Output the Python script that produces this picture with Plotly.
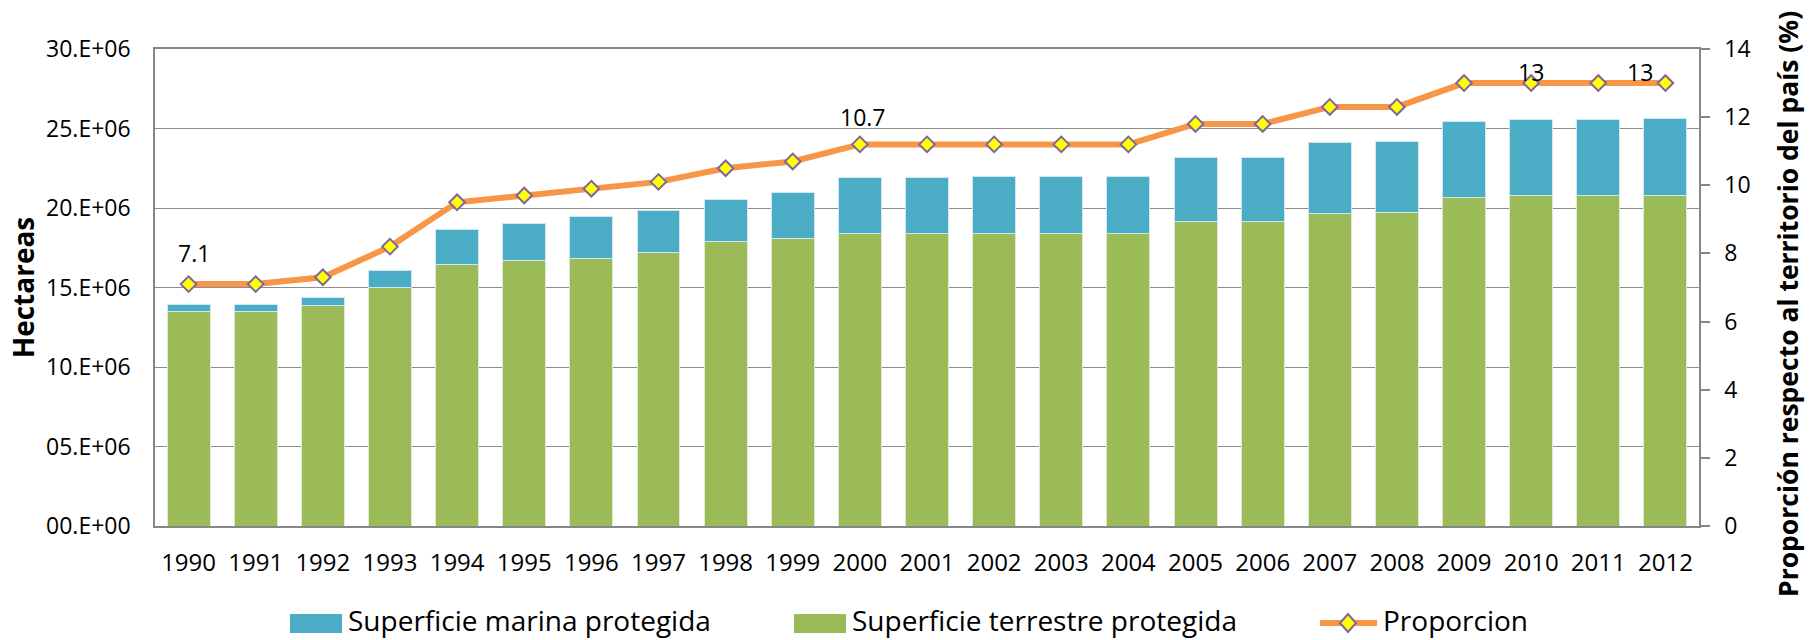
import plotly.graph_objects as go

# ---------------- data ----------------
years = ["1990", "1991", "1992", "1993", "1994", "1995", "1996", "1997", "1998", "1999",
         "2000", "2001", "2002", "2003", "2004", "2005", "2006", "2007", "2008", "2009",
         "2010", "2011", "2012"]

# hectares
terrestre = [13510000, 13510000, 13870000, 15020000, 16420000, 16700000, 16820000, 17220000,
             17890000, 18100000, 18400000, 18400000, 18400000, 18400000, 18400000, 19150000,
             19150000, 19650000, 19720000, 20660000, 20790000, 20790000, 20790000]
marina = [420000, 420000, 520000, 1020000, 2250000, 2300000, 2640000, 2640000,
          2660000, 2870000, 3520000, 3520000, 3560000, 3560000, 3560000, 4040000,
          4040000, 4490000, 4480000, 4800000, 4790000, 4790000, 4840000]

# percent of national territory
proporcion = [7.1, 7.1, 7.3, 8.2, 9.5, 9.7, 9.9, 10.1, 10.5, 10.7, 11.2, 11.2, 11.2, 11.2,
              11.2, 11.8, 11.8, 12.3, 12.3, 13.0, 13.0, 13.0, 13.0]

left_tickvals = [0, 5000000, 10000000, 15000000, 20000000, 25000000, 30000000]
left_ticktext = ["00.E+00", "05.E+06", "10.E+06", "15.E+06", "20.E+06", "25.E+06", "30.E+06"]
right_tickvals = [0, 2, 4, 6, 8, 10, 12, 14]

# data labels shown on the line (year of the point, label offset in px)
label_years = ["1990", "1999", "2010", "2012"]
label_offsets = [(5, 31), (70, 44), (0, 11), (-25, 11)]

names = ["Superficie marina protegida", "Superficie terrestre protegida", "Proporcion"]
y1_title = "Hectareas"
y2_title = "Proporción respecto al territorio del país (%)"

# ---------------- style ----------------
C_MAR = "#4BACC6"
C_TER = "#9BBB59"
C_LINE = "#F79646"
C_MFILL = "#FFFF00"
C_MEDGE = "#8064A2"
C_GRID = "#8c8c8c"
C_AXIS = "#868686"
FONT = "Open Sans"

W, H = 1812, 640
L, R, T, B = 155, 113, 49, 114
PW, PH = W - L - R, H - T - B


def pxx(px):
    return (px - L) / PW


def pxy(py):
    return (H - B - py) / PH


fig = go.Figure()
fig.add_trace(go.Bar(x=years, y=terrestre, name=names[1], marker=dict(color=C_TER, line=dict(color="#dfe9cf", width=1)),
                     showlegend=False))
fig.add_trace(go.Bar(x=years, y=marina, name=names[0], marker=dict(color=C_MAR, line=dict(color="#cfe8ef", width=1)),
                     showlegend=False))
fig.add_trace(go.Scatter(x=years, y=proporcion, name=names[2], yaxis="y2", mode="lines+markers",
                         line=dict(color=C_LINE, width=6),
                         marker=dict(symbol="diamond", size=12, color=C_MFILL, line=dict(color=C_MEDGE, width=2)),
                         showlegend=False))

annotations = []
for yr, (dx, dy) in zip(label_years, label_offsets):
    i = years.index(yr)
    v = proporcion[i]
    annotations.append(dict(x=i, y=v, xref="x", yref="y2", text=f"{v:g}", showarrow=False,
                            xshift=dx, yshift=dy, font=dict(family=FONT, size=23, color="#000000"),
                            xanchor="center", yanchor="middle"))

# right axis title (placed like the original, slightly below the axis centre)
annotations.append(dict(x=pxx(1788), y=pxy(304), xref="paper", yref="paper", text=f"<b>{y2_title}</b>",
                        textangle=-90, showarrow=False, xanchor="center", yanchor="middle",
                        font=dict(family=FONT, size=26.5, color="#000000")))

# custom legend
shapes = []
leg_y = 623
shapes.append(dict(type="rect", xref="paper", yref="paper", x0=pxx(290), x1=pxx(342), y0=pxy(633), y1=pxy(614),
                   fillcolor=C_MAR, line=dict(width=0)))
shapes.append(dict(type="rect", xref="paper", yref="paper", x0=pxx(794), x1=pxx(846), y0=pxy(633), y1=pxy(614),
                   fillcolor=C_TER, line=dict(width=0)))
shapes.append(dict(type="line", xref="paper", yref="paper", x0=pxx(1320), x1=pxx(1377), y0=pxy(leg_y), y1=pxy(leg_y),
                   line=dict(color=C_LINE, width=6)))
shapes.append(dict(type="path", xref="paper", yref="paper", xsizemode="pixel", ysizemode="pixel",
                   xanchor=pxx(1348), yanchor=pxy(leg_y), path="M -8 0 L 0 9 L 8 0 L 0 -9 Z",
                   fillcolor=C_MFILL, line=dict(color=C_MEDGE, width=2)))
for tx, name in zip([346, 850, 1381], names):
    annotations.append(dict(x=pxx(tx), y=pxy(leg_y - 3), xref="paper", yref="paper", text=name, showarrow=False,
                            xanchor="left", yanchor="middle", font=dict(family=FONT, size=28, color="#000000")))

fig.update_layout(
    width=W, height=H,
    margin=dict(l=L, r=R, t=T, b=B, autoexpand=False),
    paper_bgcolor="white", plot_bgcolor="white",
    barmode="stack", bargap=0.36,
    font=dict(family=FONT, size=23, color="#000000"),
    showlegend=False,
    xaxis=dict(type="category", categoryorder="array", categoryarray=years, range=[-0.5, len(years) - 0.5],
               showgrid=False, showline=True, linecolor=C_AXIS, linewidth=1.5, mirror=True,
               ticks="", tickfont=dict(size=24), ticklabelstandoff=14),
    yaxis=dict(range=[0, 30000000], tickvals=left_tickvals, ticktext=left_ticktext, showgrid=True,
               gridcolor=C_GRID, gridwidth=1.4, showline=True, linecolor=C_AXIS, linewidth=1.5, ticks="",
               zeroline=False, tickfont=dict(size=23), ticklabelstandoff=18,
               title=dict(text=f"<b>{y1_title}</b>", font=dict(size=28), standoff=3)),
    yaxis2=dict(range=[0, 14], tickvals=right_tickvals, overlaying="y", side="right", showgrid=False,
                showline=True, linecolor=C_AXIS, linewidth=1.5, ticks="outside", ticklen=9, tickcolor=C_AXIS,
                tickwidth=1.5, zeroline=False, tickfont=dict(size=23), ticklabelstandoff=10),
    annotations=annotations,
    shapes=shapes,
)

fig.write_html("out.html", config={"displayModeBar": False},
               post_script="document.body.style.margin='0';document.body.style.overflow='hidden';")
